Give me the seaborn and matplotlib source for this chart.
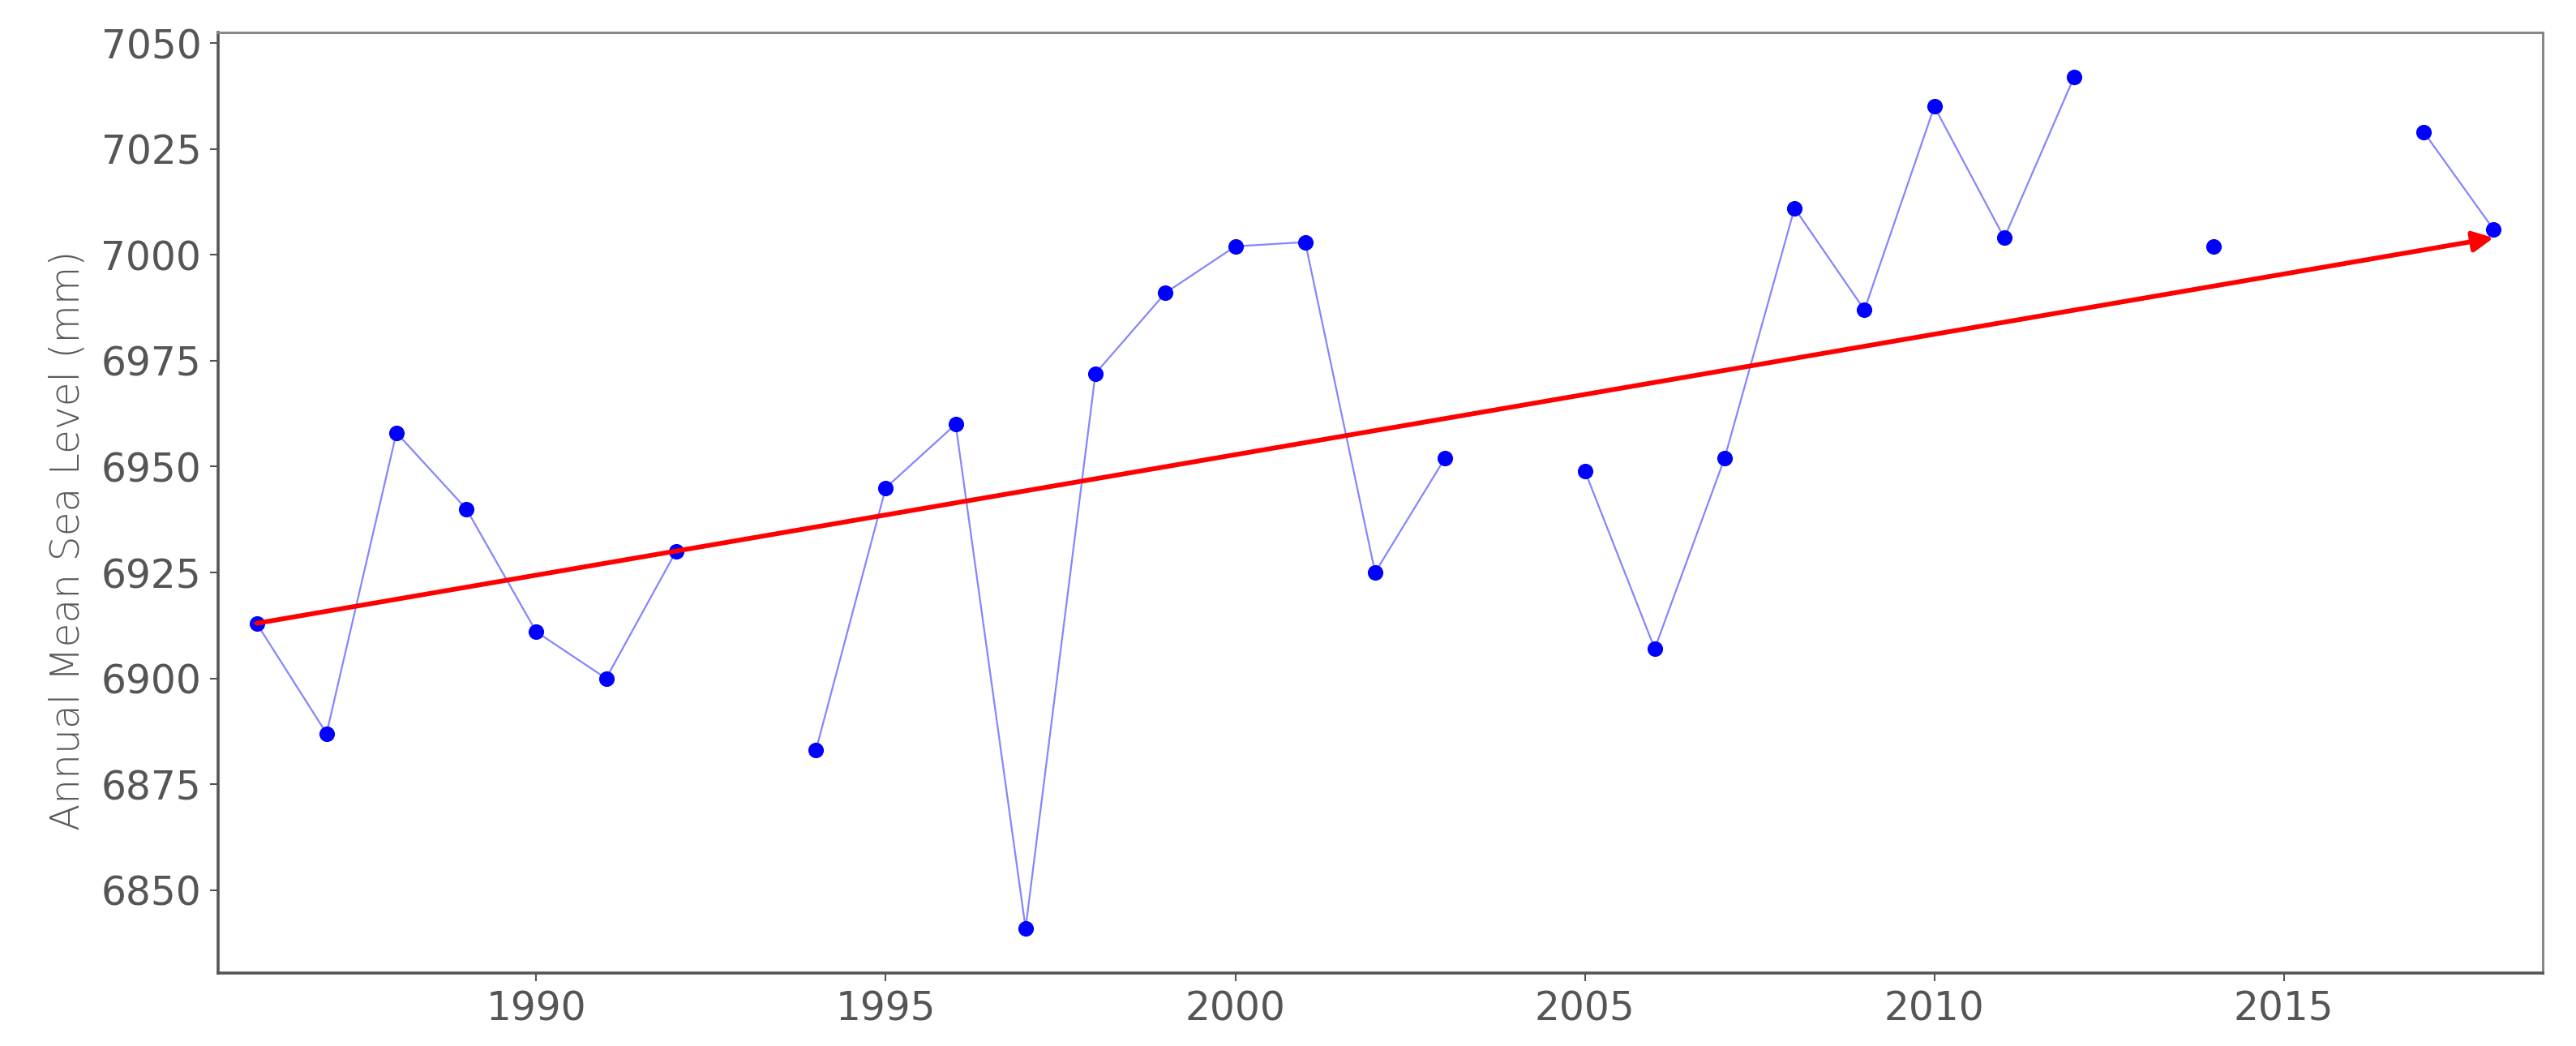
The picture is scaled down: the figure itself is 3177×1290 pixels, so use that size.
import numpy as np
import pandas as pd
import matplotlib
matplotlib.use('Agg')
import matplotlib.pyplot as plt
import seaborn as sns

# annual mean sea level, None = no data for that year
years = list(range(1986, 2019))
sea_level = [6913, 6887, 6958, 6940, 6911, 6900, 6930, None, 6883, 6945,
             6960, 6841, 6972, 6991, 7002, 7003, 6925, 6952, None, 6949,
             6907, 6952, 7011, 6987, 7035, 7004, 7042, None, 7002, None,
             None, 7029, 7006]

# trend arrow end points
trend_years = [1986, 2018]
trend_values = [6913, 7004]

x_ticks = [1990, 1995, 2000, 2005, 2010, 2015]
y_ticks = [6850, 6875, 6900, 6925, 6950, 6975, 7000, 7025, 7050]


def make_frame():
    df = pd.DataFrame({'year': years, 'level': sea_level}, dtype=float)
    # break the line wherever a year is missing
    df['segment'] = df['level'].isnull().cumsum()
    return df.dropna()


sns.set_theme(style='white')
plt.rcParams['font.family'] = ['DejaVu Sans']

df = make_frame()

fig = plt.figure(figsize=(31.77, 12.90), dpi=100)
ax = fig.add_axes([0.0847, 0.070, 0.9023, 0.899])

sns.lineplot(data=df, x='year', y='level', units='segment', estimator=None,
             color='#8585ff', linewidth=1.6, ax=ax, legend=False)
sns.scatterplot(data=df, x='year', y='level', color='blue', s=190,
                linewidth=0, ax=ax, legend=False, zorder=3)

ax.annotate('', xy=(trend_years[1], trend_values[1]),
            xytext=(trend_years[0], trend_values[0]),
            arrowprops=dict(arrowstyle='-|>', color='red', lw=4.2,
                            mutation_scale=38, shrinkA=0, shrinkB=0),
            zorder=4)

ax.set_xlim(1985.45, 2018.7)
ax.set_ylim(6830.5, 7052.5)
ax.set_xticks(x_ticks)
ax.set_yticks(y_ticks)
ax.set_xlabel('')
ax.set_ylabel('Annual Mean Sea Level (mm)', fontsize=35, color='#5a5a5a',
              fontweight='light', labelpad=12)
ax.yaxis.label.set_y(0.46)

ax.tick_params(axis='both', which='major', labelsize=35, colors='#555555',
               length=7, width=1.5, direction='out', pad=8)
ax.tick_params(axis='both', bottom=True, left=True)

for side in ['left', 'bottom']:
    ax.spines[side].set_color('#555555')
    ax.spines[side].set_linewidth(2.6)
for side in ['top', 'right']:
    ax.spines[side].set_color('#888888')
    ax.spines[side].set_linewidth(2.2)

fig.savefig('out.png', dpi=100, facecolor='white')
